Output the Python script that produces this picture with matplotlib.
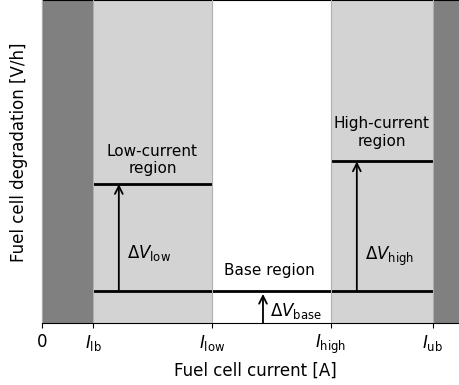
import matplotlib.pyplot as plt

# current bounds [A] and degradation levels [V/h] (schematic units)
I_lb, I_low, I_high, I_ub = 1.5, 5.0, 8.5, 11.5
I_max = 12.53
dV_base = 1.0
dV_low = 4.3
dV_high = 5.0

tick_pos = [0, I_lb, I_low, I_high, I_ub]
tick_labels = ['0', r'$I_{\rm lb}$', r'$I_{\rm low}$', r'$I_{\rm high}$', r'$I_{\rm ub}$']

fig = plt.figure(figsize=(4.59, 3.85), dpi=100)
ax = fig.add_axes([42 / 459, 62 / 385, 426 / 459, 323 / 385])

# infeasible and low/high current regions
ax.axvspan(0, I_lb, color='grey', lw=0)
ax.axvspan(I_ub, I_max, color='grey', lw=0)
ax.axvspan(I_lb, I_low, color='lightgrey', lw=0)
ax.axvspan(I_high, I_ub, color='lightgrey', lw=0)

# degradation levels
ax.hlines(dV_base, I_lb, I_ub, color='k', lw=2)
ax.hlines(dV_low, I_lb, I_low, color='k', lw=2)
ax.hlines(dV_high, I_high, I_ub, color='k', lw=2)

arr = dict(arrowstyle='->', color='k', lw=1.3, shrinkA=0, shrinkB=0, mutation_scale=14)
x_lo = 2.26
x_hi = 9.26
x_b = 6.5
ax.annotate('', xy=(x_lo, dV_low), xytext=(x_lo, dV_base), arrowprops=arr)
ax.annotate('', xy=(x_hi, dV_high), xytext=(x_hi, dV_base), arrowprops=arr)
ax.annotate('', xy=(x_b, dV_base - 0.1), xytext=(x_b, 0), arrowprops=arr)

fs = 11
ms = 12
ax.text(x_lo + 0.25, 2.17, r'$\Delta V_{\rm low}$', fontsize=ms, va='center')
ax.text(x_hi + 0.25, 2.05, r'$\Delta V_{\rm high}$', fontsize=ms, va='center')
ax.text(x_b + 0.2, 0.36, r'$\Delta V_{\rm base}$', fontsize=ms, va='center')
ax.text((I_lb + I_low) / 2, 5.05, 'Low-current\nregion', fontsize=fs, ha='center', va='center')
ax.text((I_high + I_ub) / 2, 5.9, 'High-current\nregion', fontsize=fs, ha='center', va='center')
ax.text(6.7, 1.64, 'Base region', fontsize=fs, ha='center', va='center')

ax.set_xlim(0, I_max)
ax.set_ylim(0, 10)
ax.set_xticks(tick_pos)
ax.set_xticklabels(tick_labels, fontsize=12)
ax.set_yticks([])
ax.grid(axis='x', color='#b0b0b0', lw=0.8)
ax.set_axisbelow(False)
ax.set_xlabel('Fuel cell current [A]', fontsize=12)
ax.set_ylabel('Fuel cell degradation [V/h]', fontsize=12)
ax.yaxis.set_label_coords(-0.032, 0.529)

fig.savefig('out.png', dpi=100)
